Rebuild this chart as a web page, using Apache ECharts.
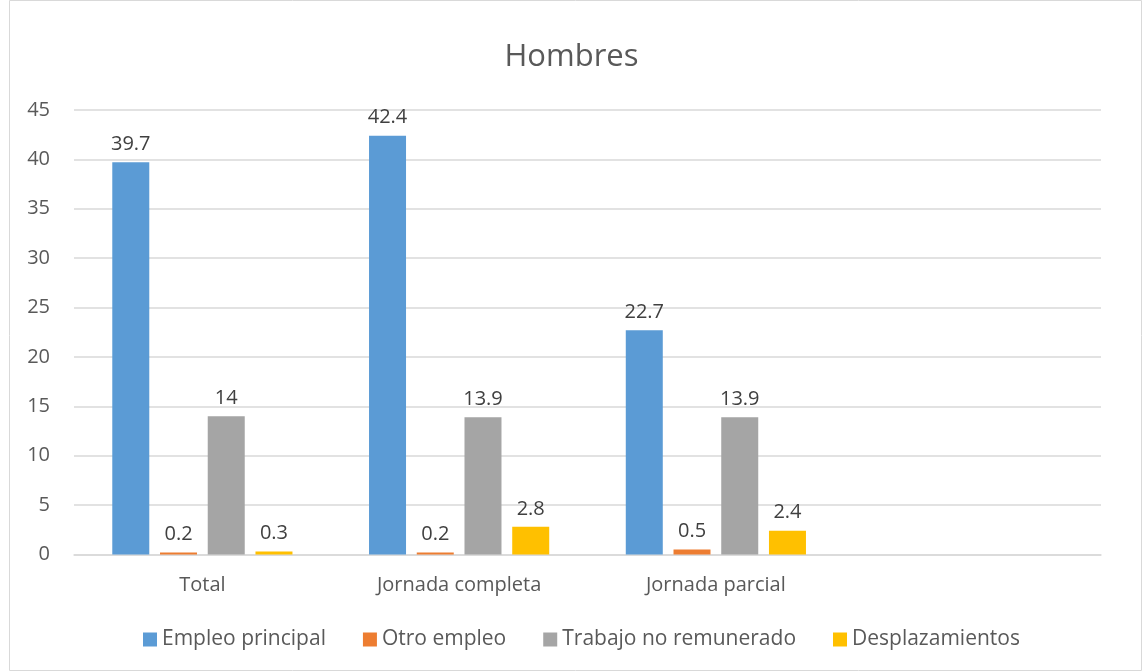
<!DOCTYPE html>
<html>
<head>
<meta charset="utf-8">
<script src="https://cdn.jsdelivr.net/npm/echarts@6/dist/echarts.min.js"></script>
<style>html,body{margin:0;padding:0;background:#fff}#c{width:1143px;height:671px}</style>
</head>
<body>
<div id="c"></div>
<script>
var categories = ['Total', 'Jornada completa', 'Jornada parcial', ''];
var seriesNames = ['Empleo principal', 'Otro empleo', 'Trabajo no remunerado', 'Desplazamientos'];
var empleoPrincipal = [39.7, 42.4, 22.7, null];
var otroEmpleo = [0.2, 0.2, 0.5, null];
var trabajoNoRemunerado = [14, 13.9, 13.9, null];
var desplazamientos = [0.3, 2.8, 2.4, null];
var yTicks = { min: 0, max: 45, interval: 5 };
var colors = ['#5B9BD5', '#ED7D31', '#A5A5A5', '#FFC000'];
var font = '"Open Sans", "Liberation Sans", sans-serif';

var chart = echarts.init(document.getElementById('c'));
var values = [empleoPrincipal, otroEmpleo, trabajoNoRemunerado, desplazamientos];
chart.setOption({
  animation: false,
  color: colors,
  title: {
    text: 'Hombres', left: 'center', top: 37,
    textStyle: { fontFamily: font, fontSize: 31, fontWeight: 'normal', color: '#595959' }
  },
  graphic: [{
    type: 'rect', shape: { x: 9.5, y: 0.5, width: 1132, height: 670 },
    style: { fill: 'none', stroke: '#d9d9d9', lineWidth: 1 }, silent: true
  }],
  legend: {
    bottom: 16, left: 138, itemWidth: 14, itemHeight: 14, itemGap: 37,
    icon: 'rect',
    textStyle: { fontFamily: font, fontSize: 21, color: '#595959', padding: [0, 0, 0, 0] },
    data: seriesNames
  },
  grid: { left: 74, right: 42, top: 110, bottom: 116.5, containLabel: false },
  xAxis: {
    type: 'category', data: categories,
    axisLine: { lineStyle: { color: '#d9d9d9', width: 1.5 } },
    axisTick: { show: false },
    axisLabel: { fontFamily: font, fontSize: 20, color: '#595959', margin: 21 }
  },
  yAxis: {
    type: 'value', min: yTicks.min, max: yTicks.max, interval: yTicks.interval,
    axisLine: { show: false }, axisTick: { show: false },
    splitLine: { lineStyle: { color: '#d9d9d9', width: 1.5 } },
    axisLabel: { fontFamily: font, fontSize: 20, color: '#595959', margin: 24 }
  },
  series: seriesNames.map(function (n, i) {
    return {
      name: n, type: 'bar', data: values[i], barWidth: 37, barGap: '29%',
      label: {
        show: true, position: 'top', distance: 8,
        fontFamily: font, fontSize: 20, color: '#404040'
      }
    };
  })
});
</script>
</body>
</html>
